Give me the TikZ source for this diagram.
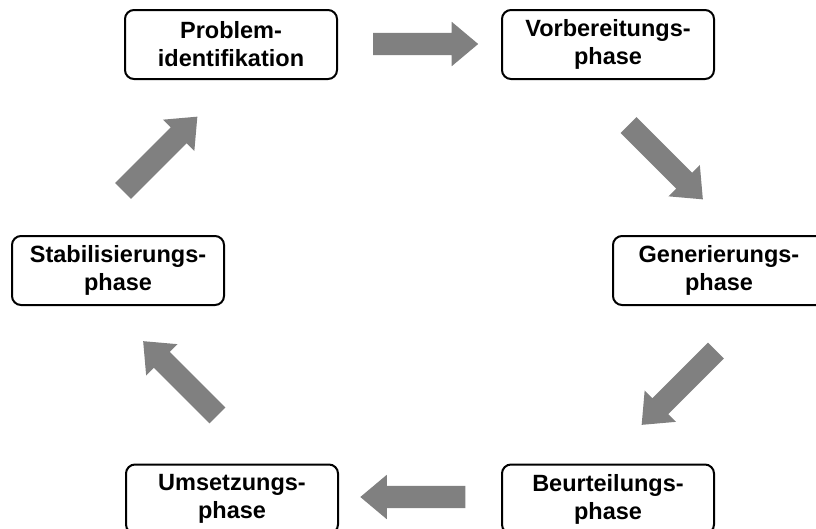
\documentclass[tikz,border=0pt]{standalone}
\usepackage{fontspec}
\setmainfont{Liberation Sans}
\usetikzlibrary{shapes.arrows}
\definecolor{arrowgray}{HTML}{808080}
\begin{document}
\begin{tikzpicture}[x=1pt,y=-1pt,
  phasebox/.style={draw=black, line width=2pt, rounded corners=9pt, fill=white,
    minimum width=212pt, minimum height=69pt, inner sep=0pt, align=center,
    font=\fontsize{23.5}{28}\selectfont\bfseries},
  blockarrow/.style={single arrow, fill=arrowgray, draw=none, inner xsep=0pt,
    inner ysep=11pt, minimum height=105pt, minimum width=0pt,
    single arrow head extend=11pt, single arrow tip angle=80, anchor=center}
]
\useasboundingbox (0,0) rectangle (816,528);
\fill[white] (0,0) rectangle (816,528);
\node[phasebox] (prob) at (231,44.5) {Problem-\\identifikation};
\node[phasebox] (vorb) at (608,44.5) {Vorbereitungs-\\phase};
\node[phasebox] (gen) at (719,270.5) {Generierungs-\\phase};
\node[phasebox] (stab) at (118,270.5) {Stabilisierungs-\\phase};
\node[phasebox] (ums) at (232,499) {Umsetzungs-\\phase};
\node[phasebox] (beur) at (608,499) {Beurteilungs-\\phase};
\node[blockarrow, rotate=0] (a1) at (419,44) {};
\node[blockarrow, rotate=-45] (a2) at (661,157.5) {};
\node[blockarrow, rotate=-135] (a3) at (683.5,383) {};
\node[blockarrow, rotate=180] (a4) at (419.5,497) {};
\node[blockarrow, rotate=135] (a5) at (185,383) {};
\node[blockarrow, rotate=45] (a6) at (155.5,158.5) {};
\end{tikzpicture}
\end{document}
